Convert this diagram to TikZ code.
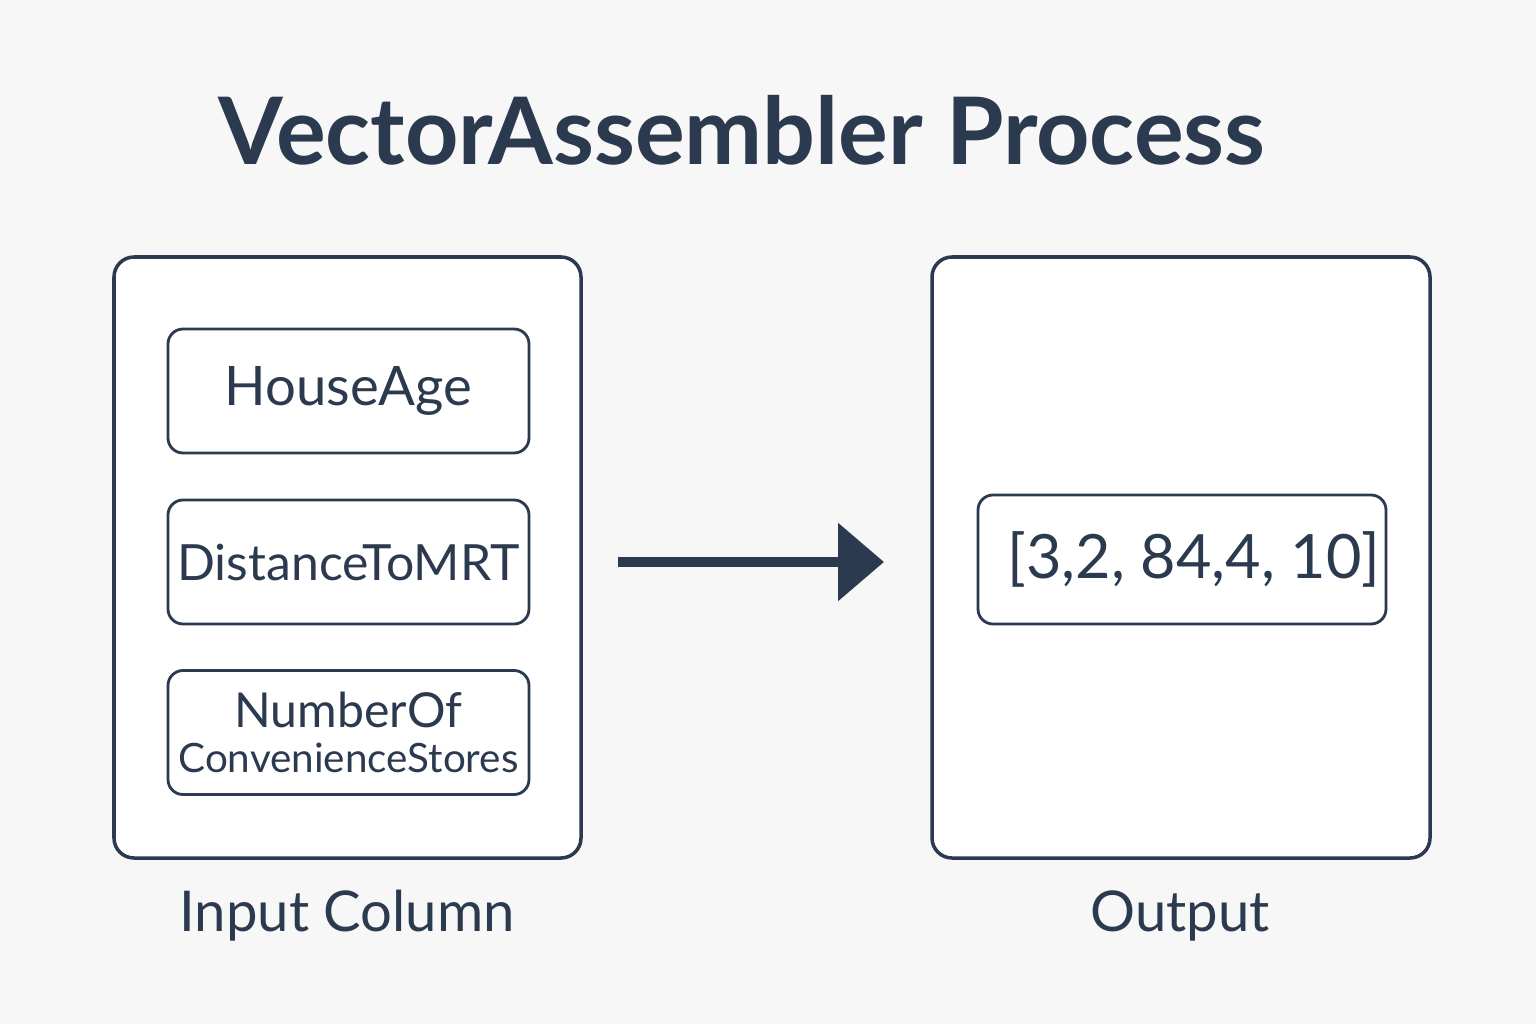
\documentclass[tikz,border=0pt]{standalone}
\usepackage{fontspec}
\setmainfont{Lato}
\usepackage{xcolor}
\usetikzlibrary{arrows.meta}
\definecolor{navy}{HTML}{2B3A4E}
\definecolor{paper}{HTML}{F7F7F7}
\tikzset{
  panel/.style={draw=navy, line width=1pt, fill=white, rounded corners=0.2cm},
  field/.style={draw=navy, line width=0.8pt, fill=white, rounded corners=0.15cm,
    minimum width=3.61cm, minimum height=1.24cm, text=navy, align=center, inner sep=0pt},
  caption/.style={text=navy, font=\fontsize{16}{18}\selectfont},
}
\begin{document}
\begin{tikzpicture}
\fill[paper] (0,0) rectangle (15.36,10.24);
\useasboundingbox (0,0) rectangle (15.36,10.24);
  \node[text=navy, font=\fontsize{26.5}{28}\selectfont\bfseries] (title) at (7.42,8.94) {VectorAssembler Process};
  % left panel
  \draw[panel] (1.14,1.66) rectangle (5.81,7.67);
  \coordinate (leftE) at (5.81,4.62);
  \node[field, font=\fontsize{15.5}{18}\selectfont] (age) at (3.485,6.33) {\raisebox{-2pt}{HouseAge}};
  \node[field, font=\fontsize{14.2}{18}\selectfont] (mrt) at (3.485,4.62) {DistanceToMRT};
  \node[field] (stores) at (3.485,2.915) {{\fontsize{13.7}{16}\selectfont NumberOf}\\[1pt]{\fontsize{11.5}{14}\selectfont ConvenienceStores}};
  \node[caption] (incap) at (3.47,1.08) {Input Column};
  % right panel
  \draw[panel] (9.32,1.66) rectangle (14.30,7.67);
  \coordinate (rightW) at (9.32,4.62);
  \node[field, minimum width=4.08cm, minimum height=1.29cm, font=\fontsize{17.4}{20}\selectfont] (vec) at (11.82,4.645) {\hspace{0.24cm}[3,2, 84,4, 10]};
  \node[caption] (outcap) at (11.80,1.08) {Output};
  % arrow
  \draw[navy, line width=0.1cm, -{Triangle[length=0.46cm, width=0.76cm]}, shorten <=0.37cm, shorten >=0.48cm] (leftE) -- (rightW);
\end{tikzpicture}
\end{document}
